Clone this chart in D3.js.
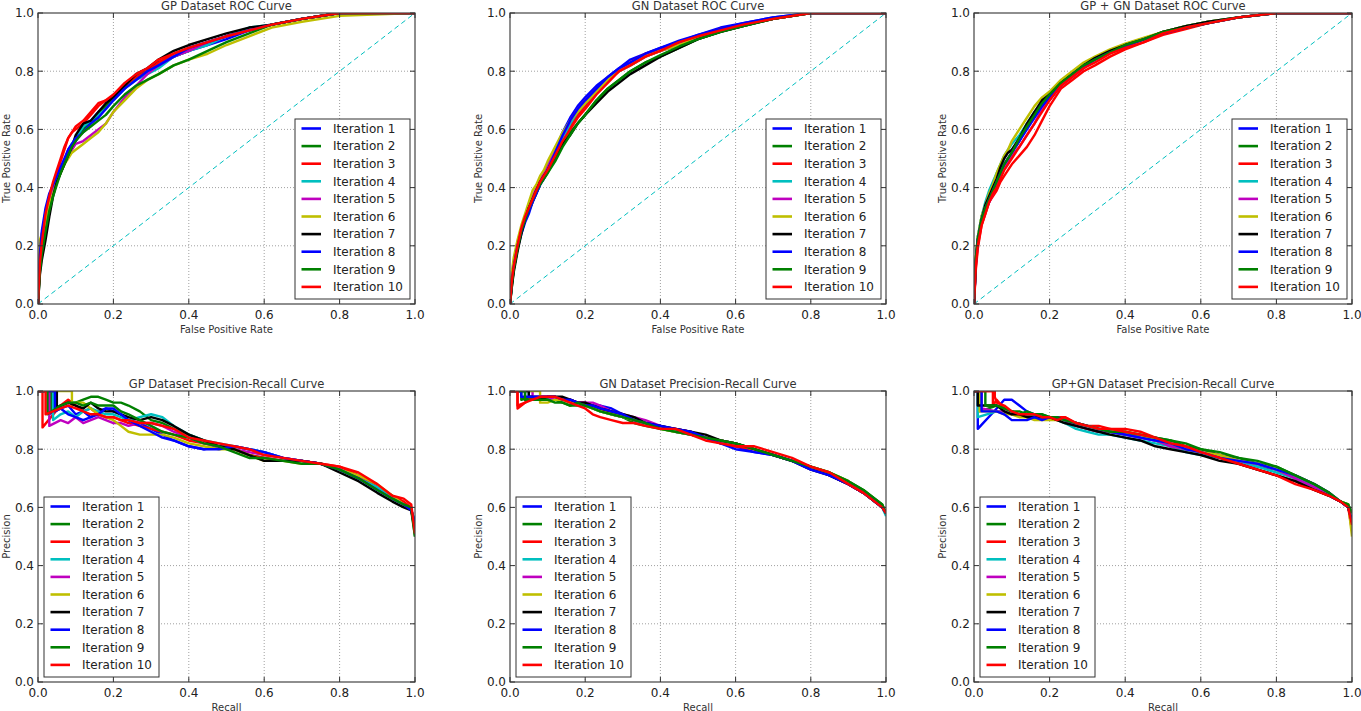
<!DOCTYPE html>
<html><head><meta charset="utf-8">
<script src="https://cdn.jsdelivr.net/npm/d3@7"></script>
<style>body{margin:0;background:#fff;} svg{display:block;} text{font-family:"DejaVu Sans",sans-serif;}</style>
</head><body><svg id="c" width="1361" height="711"></svg>
<script>
const iterations = ["Iteration 1","Iteration 2","Iteration 3","Iteration 4","Iteration 5","Iteration 6","Iteration 7","Iteration 8","Iteration 9","Iteration 10"];
const colors = ["#0000ff","#008000","#ff0000","#00bfbf","#bf00bf","#bfbf00","#000000","#0000ff","#008000","#ff0000"];
const tickValues = [0,0.2,0.4,0.6,0.8,1.0];
const tickLabels = ["0.0","0.2","0.4","0.6","0.8","1.0"];

// ROC: shared false positive rate grid
const rocFpr = [0,.005,.01,.02,.03,.04,.05,.06,.07,.08,.09,.10,.12,.14,.16,.18,.20,.23,.26,.29,.32,.36,.40,.45,.50,.56,.62,.70,.80,1.0];

const gpRocTpr = [
 [0,.16,.24,.31,.36,.40,.43,.46,.49,.53,.55,.56,.60,.63,.66,.68,.71,.74,.78,.80,.83,.85,.87,.89,.91,.94,.96,.98,1,1],
 [0,.12,.18,.26,.33,.38,.42,.45,.48,.51,.54,.57,.60,.62,.65,.68,.71,.75,.78,.80,.82,.85,.87,.90,.92,.94,.96,.98,1,1],
 [0,.13,.19,.29,.36,.41,.45,.49,.53,.57,.59,.60,.62,.65,.68,.70,.71,.75,.78,.80,.83,.86,.88,.90,.92,.94,.96,.98,1,1],
 [0,.15,.22,.32,.37,.40,.43,.46,.49,.52,.55,.57,.61,.63,.65,.67,.70,.74,.77,.79,.81,.85,.87,.89,.92,.95,.96,.98,1,1],
 [0,.14,.20,.29,.35,.39,.43,.46,.49,.51,.53,.55,.56,.58,.60,.62,.66,.71,.75,.79,.82,.85,.87,.90,.92,.94,.96,.98,1,1],
 [0,.22,.24,.28,.34,.38,.42,.45,.48,.50,.52,.53,.55,.57,.59,.62,.66,.70,.74,.77,.79,.82,.84,.86,.89,.92,.95,.97,.99,1],
 [0,.10,.15,.22,.30,.37,.42,.45,.48,.51,.54,.58,.62,.63,.66,.69,.71,.75,.79,.81,.84,.87,.89,.91,.93,.95,.96,.98,1,1],
 [0,.17,.25,.33,.38,.41,.44,.47,.50,.53,.55,.57,.59,.62,.64,.67,.70,.74,.77,.80,.82,.85,.88,.90,.92,.94,.96,.98,1,1],
 [0,.11,.17,.25,.32,.37,.41,.45,.48,.51,.54,.56,.59,.61,.63,.65,.68,.72,.75,.77,.79,.82,.84,.87,.90,.93,.96,.98,1,1],
 [0,.14,.21,.31,.37,.42,.46,.50,.54,.57,.59,.61,.63,.66,.69,.70,.72,.76,.79,.81,.84,.86,.88,.90,.92,.94,.96,.98,1,1]
];
const gnRocTpr = [
 [0,.07,.12,.19,.24,.28,.31,.35,.38,.41,.44,.47,.53,.59,.64,.68,.71,.75,.78,.81,.84,.86,.88,.905,.925,.95,.965,.985,1,1],
 [0,.06,.12,.19,.25,.29,.32,.35,.38,.41,.43,.45,.50,.55,.59,.62,.65,.70,.74,.77,.80,.83,.85,.88,.91,.935,.955,.98,1,1],
 [0,.09,.14,.21,.26,.30,.33,.36,.39,.42,.44,.47,.51,.56,.61,.65,.68,.73,.77,.80,.83,.86,.875,.90,.92,.945,.96,.98,1,1],
 [0,.08,.13,.20,.25,.29,.33,.36,.39,.42,.45,.47,.52,.57,.62,.66,.69,.73,.77,.80,.82,.85,.87,.89,.92,.94,.96,.98,1,1],
 [0,.09,.14,.20,.25,.30,.34,.37,.40,.43,.45,.48,.53,.58,.63,.67,.70,.74,.77,.80,.82,.85,.87,.89,.92,.94,.96,.98,1,1],
 [0,.11,.16,.22,.27,.31,.35,.39,.41,.44,.46,.49,.54,.59,.63,.66,.69,.73,.77,.80,.82,.85,.87,.89,.92,.94,.96,.98,1,1],
 [0,.06,.11,.18,.24,.29,.33,.36,.39,.42,.44,.46,.51,.55,.58,.62,.65,.69,.73,.76,.79,.82,.85,.88,.91,.935,.955,.98,1,1],
 [0,.08,.13,.20,.25,.29,.32,.35,.38,.41,.43,.46,.52,.58,.63,.67,.70,.74,.78,.81,.83,.86,.88,.90,.925,.945,.965,.985,1,1],
 [0,.07,.12,.19,.25,.29,.33,.36,.39,.41,.43,.45,.49,.54,.58,.62,.65,.70,.74,.77,.80,.83,.855,.885,.91,.935,.955,.98,1,1],
 [0,.08,.13,.20,.26,.30,.33,.36,.39,.42,.44,.46,.51,.56,.60,.64,.67,.72,.76,.80,.82,.85,.87,.90,.92,.94,.96,.98,1,1]
];
const gpgnRocTpr = [
 [0,.14,.21,.28,.32,.35,.38,.41,.44,.47,.49,.52,.57,.61,.65,.68,.72,.76,.79,.82,.84,.865,.885,.91,.93,.95,.965,.985,1,1],
 [0,.16,.23,.30,.34,.37,.40,.43,.46,.48,.50,.52,.56,.61,.65,.69,.72,.76,.79,.815,.84,.87,.89,.91,.935,.955,.97,.985,1,1],
 [0,.12,.19,.27,.31,.35,.37,.39,.42,.44,.46,.48,.51,.54,.58,.63,.68,.74,.77,.80,.82,.85,.875,.90,.925,.945,.965,.985,1,1],
 [0,.15,.23,.30,.35,.39,.42,.45,.48,.51,.53,.55,.58,.62,.66,.69,.72,.76,.79,.82,.84,.87,.89,.91,.935,.955,.97,.985,1,1],
 [0,.14,.21,.28,.32,.35,.38,.41,.44,.47,.49,.51,.54,.58,.62,.67,.70,.75,.78,.81,.84,.865,.89,.91,.935,.95,.965,.985,1,1],
 [0,.16,.23,.30,.34,.38,.41,.45,.48,.51,.53,.56,.60,.64,.68,.71,.73,.77,.80,.83,.85,.875,.895,.915,.935,.955,.97,.985,1,1],
 [0,.15,.22,.29,.34,.37,.40,.43,.47,.50,.52,.53,.57,.62,.66,.70,.72,.76,.79,.82,.845,.87,.89,.91,.935,.955,.97,.985,1,1],
 [0,.15,.22,.29,.33,.36,.39,.42,.45,.48,.50,.52,.56,.60,.64,.68,.71,.75,.79,.815,.84,.865,.885,.91,.93,.95,.965,.985,1,1],
 [0,.16,.22,.29,.33,.36,.39,.42,.45,.48,.50,.52,.57,.61,.65,.69,.72,.76,.79,.82,.84,.865,.89,.91,.935,.95,.965,.985,1,1],
 [0,.13,.20,.27,.31,.35,.38,.40,.43,.46,.48,.50,.54,.58,.62,.66,.70,.75,.78,.81,.83,.86,.88,.90,.93,.95,.965,.985,1,1]
];

// Precision-Recall: shared recall grid, plus per-curve recall where precision first falls from 1.0
const prRecall = [.06,.08,.10,.12,.14,.16,.18,.20,.22,.24,.27,.30,.33,.36,.40,.44,.48,.52,.56,.60,.65,.70,.75,.80,.85,.90,.94,.97,.99,1.0];

const gpPrStart = [.03,.035,.012,.04,.03,.09,.05,.045,.025,.02];
const gpPrDrop  = [.92,.93,.875,.90,.88,.95,.94,.93,.92,.92];
const gpPrPrecision = [
 [.94,.95,.92,.93,.91,.93,.94,.93,.92,.90,.89,.87,.85,.83,.81,.80,.81,.81,.80,.79,.77,.76,.75,.73,.71,.67,.63,.61,.59,.55],
 [.95,.96,.96,.97,.98,.98,.97,.96,.96,.95,.93,.90,.89,.87,.85,.83,.81,.80,.78,.77,.76,.76,.75,.73,.70,.67,.64,.61,.59,.50],
 [.95,.97,.95,.93,.94,.92,.91,.91,.90,.89,.88,.87,.86,.85,.83,.82,.81,.80,.78,.77,.76,.76,.75,.74,.71,.67,.64,.62,.60,.52],
 [.92,.93,.91,.93,.94,.93,.92,.92,.91,.90,.91,.92,.91,.88,.85,.83,.82,.81,.80,.79,.77,.76,.75,.73,.70,.67,.63,.61,.59,.55],
 [.90,.89,.91,.89,.90,.91,.90,.89,.89,.88,.89,.89,.88,.86,.84,.82,.81,.80,.79,.78,.77,.76,.75,.73,.70,.66,.63,.61,.59,.54],
 [.96,.96,.96,.96,.94,.92,.91,.90,.88,.86,.85,.85,.85,.84,.82,.81,.80,.80,.78,.76,.76,.75,.75,.73,.71,.68,.64,.61,.59,.54],
 [.95,.96,.95,.94,.96,.94,.93,.93,.92,.91,.90,.91,.90,.88,.85,.83,.81,.80,.78,.76,.76,.76,.75,.72,.69,.65,.62,.60,.59,.52],
 [.94,.92,.91,.90,.91,.92,.94,.94,.92,.90,.88,.86,.84,.83,.81,.80,.80,.81,.80,.79,.77,.76,.75,.73,.70,.66,.63,.61,.59,.55],
 [.95,.96,.96,.95,.96,.95,.95,.95,.93,.92,.90,.88,.86,.85,.84,.82,.81,.79,.77,.77,.76,.75,.75,.73,.70,.66,.63,.61,.60,.50],
 [.94,.95,.94,.93,.92,.92,.91,.91,.90,.90,.89,.89,.88,.87,.84,.83,.82,.81,.80,.78,.77,.76,.75,.74,.72,.68,.64,.63,.61,.51]
];

const gnPrStart = [.04,.03,.02,.05,.06,.08,.05,.03,.04,.02];
const gnPrDrop  = [.97,.97,.94,.98,.98,.96,.98,.98,.97,.95];
const gnPrPrecision = [
 [.97,.97,.97,.98,.97,.97,.96,.96,.95,.95,.94,.92,.90,.89,.88,.87,.86,.84,.82,.81,.79,.78,.76,.74,.71,.68,.65,.62,.60,.58],
 [.98,.97,.97,.97,.96,.95,.95,.95,.94,.93,.92,.91,.89,.88,.87,.86,.85,.84,.83,.82,.80,.78,.76,.74,.72,.69,.66,.63,.61,.58],
 [.98,.98,.98,.98,.97,.97,.96,.96,.95,.94,.92,.91,.90,.89,.87,.87,.86,.84,.82,.81,.80,.78,.76,.74,.71,.68,.65,.62,.60,.58],
 [.98,.98,.98,.97,.97,.96,.96,.95,.94,.93,.92,.91,.90,.89,.88,.86,.85,.84,.83,.82,.80,.78,.76,.74,.71,.68,.65,.62,.60,.57],
 [.98,.98,.98,.97,.97,.96,.96,.96,.96,.95,.93,.92,.91,.90,.88,.86,.85,.84,.83,.82,.80,.78,.76,.74,.71,.68,.65,.62,.60,.58],
 [.96,.96,.96,.97,.97,.96,.96,.95,.94,.93,.92,.91,.90,.89,.87,.86,.85,.84,.83,.82,.80,.78,.76,.74,.72,.69,.65,.62,.60,.58],
 [.98,.97,.98,.98,.98,.97,.96,.96,.95,.94,.93,.92,.91,.89,.88,.87,.86,.85,.83,.82,.80,.78,.76,.73,.71,.68,.65,.62,.60,.58],
 [.98,.98,.98,.98,.97,.97,.96,.95,.95,.94,.93,.92,.90,.89,.88,.87,.86,.84,.82,.80,.79,.78,.76,.73,.71,.68,.65,.62,.60,.58],
 [.97,.97,.97,.96,.96,.95,.96,.95,.94,.93,.92,.91,.90,.89,.87,.86,.85,.84,.83,.82,.80,.78,.76,.74,.72,.69,.66,.63,.61,.58],
 [.97,.98,.98,.98,.97,.96,.95,.94,.92,.91,.90,.89,.89,.88,.87,.87,.85,.83,.82,.81,.81,.79,.77,.74,.72,.68,.65,.62,.60,.58]
];

const gpgnPrStart = [.01,.015,.05,.01,.02,.015,.01,.02,.03,.055];
const gpgnPrDrop  = [.87,.93,.95,.91,.94,.93,.95,.93,.95,.98];
const gpgnPrPrecision = [
 [.94,.97,.97,.95,.93,.92,.91,.91,.91,.90,.89,.88,.87,.86,.85,.84,.83,.81,.80,.79,.77,.76,.74,.73,.70,.67,.64,.62,.60,.55],
 [.95,.94,.93,.92,.93,.92,.92,.91,.91,.90,.88,.87,.86,.86,.85,.85,.84,.83,.81,.80,.78,.77,.75,.74,.71,.68,.65,.62,.61,.58],
 [.97,.94,.93,.92,.92,.92,.91,.91,.91,.91,.89,.88,.88,.87,.87,.86,.84,.82,.81,.79,.77,.75,.73,.71,.69,.66,.64,.62,.60,.52],
 [.93,.93,.92,.92,.92,.91,.91,.91,.90,.89,.87,.86,.85,.85,.84,.83,.82,.81,.79,.78,.77,.76,.74,.72,.70,.67,.64,.62,.60,.55],
 [.93,.93,.92,.92,.92,.92,.91,.91,.91,.90,.88,.87,.86,.86,.85,.84,.83,.81,.80,.79,.78,.76,.75,.73,.70,.67,.64,.62,.60,.55],
 [.93,.92,.92,.91,.91,.90,.90,.90,.90,.90,.89,.88,.87,.86,.86,.85,.83,.82,.80,.79,.78,.76,.75,.73,.71,.68,.65,.62,.61,.50],
 [.95,.93,.92,.92,.91,.91,.91,.91,.90,.89,.88,.87,.86,.85,.84,.83,.81,.80,.79,.78,.76,.75,.73,.71,.69,.66,.64,.62,.60,.55],
 [.93,.92,.90,.90,.90,.91,.90,.91,.91,.90,.89,.88,.87,.86,.85,.84,.83,.82,.80,.79,.77,.76,.75,.73,.71,.68,.65,.62,.60,.55],
 [.95,.94,.93,.93,.92,.92,.92,.91,.91,.90,.89,.88,.87,.86,.86,.85,.84,.83,.82,.80,.79,.77,.76,.74,.71,.68,.65,.62,.61,.58],
 [.96,.95,.93,.92,.92,.92,.91,.91,.90,.91,.89,.88,.87,.87,.86,.85,.84,.82,.81,.79,.77,.75,.73,.71,.68,.66,.64,.62,.60,.54]
];

const panels = [
 {title:"GP Dataset ROC Curve", kind:"roc", data:gpRocTpr, col:0, row:0},
 {title:"GN Dataset ROC Curve", kind:"roc", data:gnRocTpr, col:1, row:0},
 {title:"GP + GN Dataset ROC Curve", kind:"roc", data:gpgnRocTpr, col:2, row:0},
 {title:"GP Dataset Precision-Recall Curve", kind:"pr", data:gpPrPrecision, start:gpPrStart, drop:gpPrDrop, col:0, row:1},
 {title:"GN Dataset Precision-Recall Curve", kind:"pr", data:gnPrPrecision, start:gnPrStart, drop:gnPrDrop, col:1, row:1},
 {title:"GP+GN Dataset Precision-Recall Curve", kind:"pr", data:gpgnPrPrecision, start:gpgnPrStart, drop:gpgnPrDrop, col:2, row:1}
];

const colX = [[38,415],[510,886],[974,1352]];
const rowY = [[13,304],[391,682]];

const svg = d3.select("#c");
const defs = svg.append("defs");

panels.forEach((p, pi) => {
  const [x0, x1] = colX[p.col];
  const [y0, y1] = rowY[p.row];
  const xs = d3.scaleLinear().domain([0,1]).range([x0,x1]);
  const ys = d3.scaleLinear().domain([0,1]).range([y1,y0]);
  const g = svg.append("g");

  defs.append("clipPath").attr("id","clip"+pi).append("rect")
    .attr("x",x0).attr("y",y0).attr("width",x1-x0).attr("height",y1-y0);

  // grid
  tickValues.forEach(t => {
    if (t > 0 && t < 1) {
      g.append("line").attr("x1",xs(t)).attr("x2",xs(t)).attr("y1",y0).attr("y2",y1)
        .attr("stroke","#a0a0a0").attr("stroke-width",1).attr("stroke-dasharray","1,2");
      g.append("line").attr("x1",x0).attr("x2",x1).attr("y1",ys(t)).attr("y2",ys(t))
        .attr("stroke","#a0a0a0").attr("stroke-width",1).attr("stroke-dasharray","1,2");
    }
  });

  const line = d3.line().x(d => xs(d[0])).y(d => ys(d[1]));
  const cg = g.append("g").attr("clip-path","url(#clip"+pi+")");

  if (p.kind === "roc") {
    cg.append("path").attr("d", line([[0,0],[1,1]])).attr("fill","none")
      .attr("stroke","#00bfbf").attr("stroke-width",1).attr("stroke-dasharray","5,3.5");
  }

  p.data.forEach((vals, si) => {
    let pts;
    if (p.kind === "roc") {
      pts = rocFpr.map((x,i) => [x, vals[i]]);
    } else {
      const s = p.start[si], d = p.drop[si];
      pts = [[0,1],[s,1],[s,d]].concat(prRecall.map((r,i)=>[r,vals[i]]).filter(q => q[0] > s));
    }
    cg.append("path").attr("d", line(pts)).attr("fill","none")
      .attr("stroke", colors[si]).attr("stroke-width",2.4).attr("stroke-linejoin","round");
  });

  // frame
  g.append("rect").attr("x",x0).attr("y",y0).attr("width",x1-x0).attr("height",y1-y0)
    .attr("fill","none").attr("stroke","#444").attr("stroke-width",1.2);

  // inward ticks on all sides
  tickValues.forEach((t,i) => {
    const tl = 5;
    g.append("line").attr("x1",xs(t)).attr("x2",xs(t)).attr("y1",y1).attr("y2",y1-tl).attr("stroke","#333");
    g.append("line").attr("x1",xs(t)).attr("x2",xs(t)).attr("y1",y0).attr("y2",y0+tl).attr("stroke","#333");
    g.append("line").attr("x1",x0).attr("x2",x0+tl).attr("y1",ys(t)).attr("y2",ys(t)).attr("stroke","#333");
    g.append("line").attr("x1",x1).attr("x2",x1-tl).attr("y1",ys(t)).attr("y2",ys(t)).attr("stroke","#333");
    g.append("text").attr("x",xs(t)).attr("y",y1+14.5).attr("text-anchor","middle")
      .attr("font-size",12).attr("fill","#222").text(tickLabels[i]);
    g.append("text").attr("x",x0-4).attr("y",ys(t)+4.3).attr("text-anchor","end")
      .attr("font-size",12).attr("fill","#222").text(tickLabels[i]);
  });

  // title & axis labels
  g.append("text").attr("x",(x0+x1)/2).attr("y",y0-3.2).attr("text-anchor","middle")
    .attr("font-size",11.5).attr("fill","#333").text(p.title);
  g.append("text").attr("x",(x0+x1)/2).attr("y",y1+28.5).attr("text-anchor","middle")
    .attr("font-size",10).attr("fill","#333").text(p.kind==="roc" ? "False Positive Rate" : "Recall");
  g.append("text").attr("transform",`translate(${x0-28},${(y0+y1)/2}) rotate(-90)`).attr("text-anchor","middle")
    .attr("font-size",10).attr("fill","#333").text(p.kind==="roc" ? "True Positive Rate" : "Precision");

  // legend
  const lw = 115, lh = 180;
  const lx = p.kind==="roc" ? x1 - 5 - lw : x0 + 6;
  const ly = y1 - 5 - lh;
  const lg = g.append("g");
  lg.append("rect").attr("x",lx).attr("y",ly).attr("width",lw).attr("height",lh)
    .attr("fill","#fff").attr("stroke","#333").attr("stroke-width",1);
  iterations.forEach((name,i) => {
    const cy = ly + 9.5 + i*17.6;
    lg.append("line").attr("x1",lx+6.5).attr("x2",lx+26).attr("y1",cy).attr("y2",cy)
      .attr("stroke",colors[i]).attr("stroke-width",2.6);
    lg.append("text").attr("x",lx+38).attr("y",cy+4.3).attr("font-size",12).attr("fill","#222").text(name);
  });
});
</script></body></html>
